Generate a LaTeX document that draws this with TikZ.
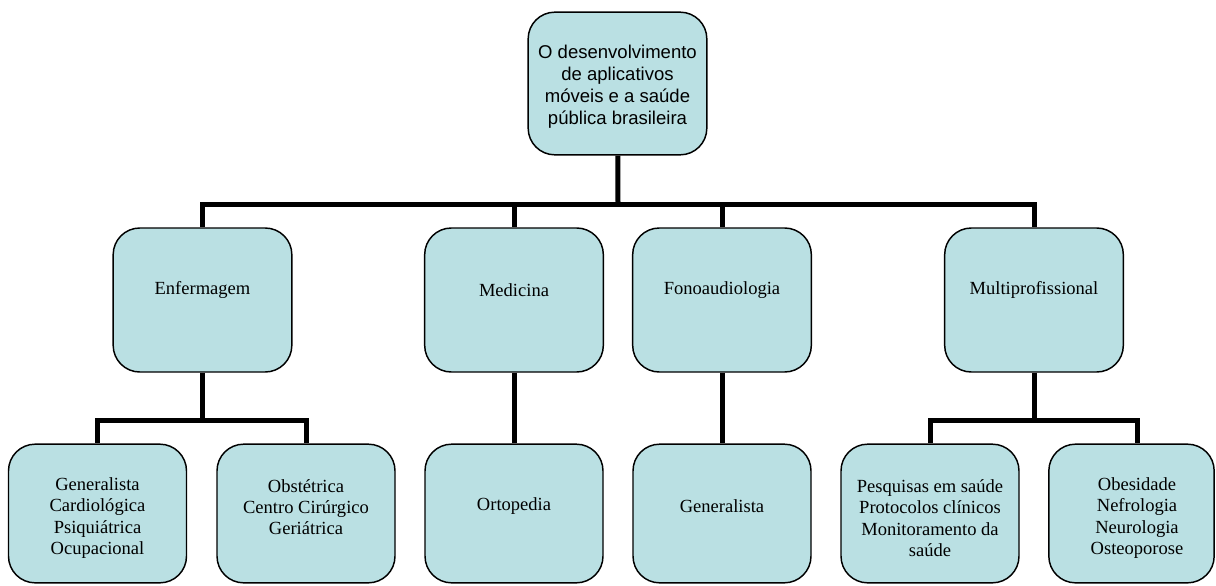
\documentclass[tikz,border=0pt]{standalone}
\usepackage{fontspec}
\setmainfont{Liberation Serif}
\newfontfamily\rootfont{Liberation Sans}
\usetikzlibrary{positioning}
\definecolor{boxblue}{RGB}{186,224,227}

\begin{document}
\begin{tikzpicture}[x = 0.75pt, y = -0.75pt]
  \tikzstyle{topic}=[
      rectangle, rounded corners = 20pt, line width = 1.1pt
    , draw = black, fill = boxblue
    , minimum width = 134pt, minimum height = 107pt
    ]
  \tikzstyle{area}=[topic, minimum height = 108pt]
  \tikzstyle{leaf}=[topic, minimum width = 133.5pt, minimum height = 104pt]
  \tikzstyle{boxtext}=[
      align = center, inner sep = 0pt
    , font = \fontsize{13.9}{16}\selectfont
    ]
  \tikzstyle{roottext}=[
      align = center, inner sep = 0pt
    , font = \rootfont\fontsize{13.9}{16.5}\selectfont
    ]
  \tikzstyle{connect}=[line width = 3.75pt]

  \useasboundingbox (0,0) rectangle (1216,585);

  \node[topic] (root) at (617.5,83.5) { };
  \node[roottext] (roottxt) at (617.5,86.5)
    {O desenvolvimento\\de aplicativos\\móveis e a saúde\\pública brasileira};

  \node[area] (enf) at (202.5,300) { };
  \node[area] (med) at (514,300) { };
  \node[area] (fon) at (722,300) { };
  \node[area] (mul) at (1034,300) { };
  \node[boxtext] (enftxt) at (202.5,290) {Enfermagem};
  \node[boxtext] (medtxt) at (514,290) {Medicina};
  \node[boxtext] (fontxt) at (722,290) {Fonoaudiologia};
  \node[boxtext] (multxt) at (1034,290) {Multiprofissional};

  \node[leaf] (gen) at (97.5,513.5) { };
  \node[leaf] (obs) at (306,513.5) { };
  \node[leaf] (ort) at (514,513.5) { };
  \node[leaf] (gnl) at (722,513.5) { };
  \node[leaf] (pes) at (930,513.5) { };
  \node[leaf, minimum width = 124pt] (obe) at (1131.5,513.5) { };
  \node[boxtext] (gentxt) at (97.5,518)
    {Generalista\\Cardiológica\\Psiquiátrica\\Ocupacional};
  \node[boxtext] (obstxt) at (306,507)
    {Obstétrica\\Centro Cirúrgico\\Geriátrica};
  \node[boxtext] (orttxt) at (514,506) {Ortopedia};
  \node[boxtext] (gnltxt) at (722,506) {Generalista};
  \node[boxtext] (pestxt) at (930,518)
    {Pesquisas em saúde\\Protocolos clínicos\\Monitoramento da\\saúde};
  \node[boxtext] (obetxt) at (1137,518)
    {Obesidade\\Nefrologia\\Neurologia\\Osteoporose};

  \coordinate (topbar) at (618,204);
  \coordinate (enfbar) at (202.5,420);
  \coordinate (mulbar) at (1034,420);

  \draw[connect] (root) -- (topbar);
  \draw[connect] (topbar) -| (enf);
  \draw[connect] (topbar) -| (mul);
  \draw[connect] (topbar -| med) -- (med);
  \draw[connect] (topbar -| fon) -- (fon);

  \draw[connect] (enf) -- (enfbar);
  \draw[connect] (enfbar) -| (gen);
  \draw[connect] (enfbar) -| (obs);
  \path (med) edge [connect] (ort);
  \path (fon) edge [connect] (gnl);
  \draw[connect] (mul) -- (mulbar);
  \draw[connect] (mulbar) -| (pes);
  \draw[connect] (mulbar) -| (obe.north -| obetxt);

\end{tikzpicture}
\end{document}
